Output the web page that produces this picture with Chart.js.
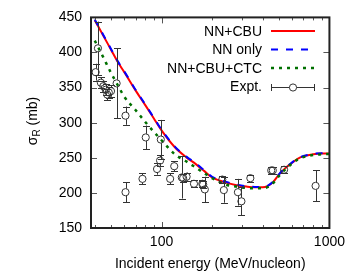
<!DOCTYPE html>
<html>
<head>
<meta charset="utf-8">
<script src="https://cdn.jsdelivr.net/npm/chart.js@4/dist/chart.umd.min.js"></script>
<style>
  html, body { margin: 0; padding: 0; background: #fff; }
  #wrap { width: 351px; height: 273px; }
</style>
</head>
<body>
<div id="wrap"><canvas id="sigmaChart" width="351" height="273"></canvas></div>
<script>
// experimental points (energy in MeV/nucleon, sigma_R in mb, error in mb)
const exptEnergy = [40.5, 41.8, 43.5, 45, 46.5, 47.5, 48.5, 50, 54, 61, 61, 77, 80.5, 94, 98, 99,
    112.5, 119, 132, 134.5, 141, 156, 175, 177, 181, 230, 235, 285, 299, 338, 450, 460, 537, 827];
const exptSigma = [372, 406, 357, 352, 347, 340, 343, 345, 356, 310, 201, 220, 279, 234, 246, 276,
    220, 238, 222, 221, 223, 213, 213, 212, 205, 219, 204, 201, 188, 221, 232, 232, 233, 210];
const exptError = [12, 38, 8, 8, 8, 8, 8, 8, 50, 13, 14, 8, 17, 8, 8, 28,
    8, 7, 30, 6, 6, 5, 5, 5, 18, 5, 18, 19, 20, 5, 5, 5, 5, 22];

// calculated curves
const curveEnergy = [40, 45, 50, 55, 60, 70, 80, 90, 100, 120, 140, 160, 180, 200, 240, 280, 320,
    360, 400, 430, 460, 500, 550, 600, 650, 700, 800, 900, 1000];
const nnCbu = [446, 424, 404, 386, 372, 346, 325, 306, 289, 265, 251, 241, 231, 222, 215, 211, 209,
    208, 208, 210, 215, 226, 236, 243, 249, 252, 255, 256, 256];
const nnOnly = [447, 425, 405, 387, 373, 347, 326, 307, 290, 266, 252, 242, 232, 223, 216, 212, 209.5,
    208.5, 208.5, 210.5, 215.5, 226.5, 236.5, 243.5, 249.5, 252.5, 255.5, 256.5, 256.5];
const nnCbuCtc = [417, 393, 371, 353, 337, 318, 301, 287, 275, 255, 245, 236, 228, 221, 212, 209, 207,
    206.5, 206.5, 208.5, 213.5, 224, 234, 242, 248, 251, 254, 255, 255.5];

// axes
const yTicks = [150, 200, 250, 300, 350, 400, 450];
const xTicks = [40, 50, 60, 70, 80, 90, 100, 200, 300, 400, 500, 600, 700, 800, 900, 1000];
const xTickLabels = [100, 1000];

const legendItems = ['NN+CBU', 'NN only', 'NN+CBU+CTC', 'Expt.'];

const FONT = '"Liberation Sans", Arial, sans-serif';
Chart.defaults.font.family = FONT;
Chart.defaults.font.size = 14;
Chart.defaults.color = '#000';

function toPoints(xs, ys) {
    return xs.map((v, i) => ({ x: v, y: ys[i] }));
}

// error bars, tick marks, frame, legend and y title
const gnuplotLook = {
    id: 'gnuplotLook',
    afterDatasetsDraw(chart) {
        const { ctx, scales: { x, y } } = chart;
        ctx.save();
        ctx.strokeStyle = '#333';
        ctx.lineWidth = 1;
        const r = 3.6;
        exptEnergy.forEach((e, i) => {
            const px = Math.round(x.getPixelForValue(e)) + 0.5;
            const pc = y.getPixelForValue(exptSigma[i]);
            const top = y.getPixelForValue(exptSigma[i] + exptError[i]);
            const bot = y.getPixelForValue(exptSigma[i] - exptError[i]);
            ctx.beginPath();
            if (pc - top > r) { ctx.moveTo(px, top); ctx.lineTo(px, pc - r); }
            if (bot - pc > r) { ctx.moveTo(px, pc + r); ctx.lineTo(px, bot); }
            ctx.moveTo(px - 3.5, Math.round(top) + 0.5); ctx.lineTo(px + 3.5, Math.round(top) + 0.5);
            ctx.moveTo(px - 3.5, Math.round(bot) + 0.5); ctx.lineTo(px + 3.5, Math.round(bot) + 0.5);
            ctx.stroke();
        });
        ctx.restore();
    },
    afterDraw(chart) {
        const { ctx, chartArea: a, scales: { x, y } } = chart;
        ctx.save();
        // ticks inside, mirrored
        ctx.strokeStyle = '#555';
        ctx.lineWidth = 1;
        ctx.beginPath();
        yTicks.forEach(v => {
            const py = Math.round(y.getPixelForValue(v)) + 0.5;
            ctx.moveTo(a.left, py); ctx.lineTo(a.left + 6, py);
            ctx.moveTo(a.right, py); ctx.lineTo(a.right - 6, py);
        });
        xTicks.forEach(v => {
            const px = Math.round(x.getPixelForValue(v)) + 0.5;
            const len = xTickLabels.includes(v) ? 6 : 3;
            ctx.moveTo(px, a.bottom); ctx.lineTo(px, a.bottom - len);
            ctx.moveTo(px, a.top); ctx.lineTo(px, a.top + len);
        });
        ctx.stroke();

        // frame
        ctx.strokeStyle = '#222';
        ctx.lineWidth = 2;
        ctx.strokeRect(a.left, a.top, a.right - a.left, a.bottom - a.top);

        // legend
        const colors = ['#ff0000', '#0000ff', '#007000'];
        const dashes = [[], [7, 8], [3, 5]];
        const widths = [2, 2, 2.5];
        const rowY = [31, 49.5, 68, 86.5];
        const textRight = 262, x0 = 271, x1 = 315;
        ctx.font = '14px ' + FONT;
        ctx.fillStyle = '#000';
        ctx.textAlign = 'right';
        ctx.textBaseline = 'middle';
        legendItems.forEach((label, i) => {
            ctx.fillText(label, textRight, rowY[i] + 1);
            ctx.beginPath();
            if (i < 3) {
                ctx.strokeStyle = colors[i];
                ctx.lineWidth = widths[i];
                ctx.setLineDash(dashes[i]);
                ctx.moveTo(x0, rowY[i]); ctx.lineTo(x1, rowY[i]);
                ctx.stroke();
                ctx.setLineDash([]);
            } else {
                const ly = Math.round(rowY[i]) + 0.5;
                const cx = (x0 + x1) / 2;
                ctx.strokeStyle = '#333';
                ctx.lineWidth = 1;
                ctx.moveTo(x0, ly); ctx.lineTo(cx - 3.6, ly);
                ctx.moveTo(cx + 3.6, ly); ctx.lineTo(x1, ly);
                ctx.moveTo(x0 + 0.5, ly - 3.5); ctx.lineTo(x0 + 0.5, ly + 3.5);
                ctx.moveTo(x1 - 0.5, ly - 3.5); ctx.lineTo(x1 - 0.5, ly + 3.5);
                ctx.stroke();
                ctx.beginPath();
                ctx.arc(cx, ly, 3.6, 0, Math.PI * 2);
                ctx.stroke();
            }
        });

        // y title with subscript
        ctx.translate(32, 121);
        ctx.rotate(-Math.PI / 2);
        ctx.textAlign = 'left';
        ctx.textBaseline = 'alphabetic';
        ctx.font = '14px ' + FONT;
        const w1 = ctx.measureText('σ').width;
        const w3 = ctx.measureText(' (mb)').width;
        ctx.font = '10px ' + FONT;
        const w2 = ctx.measureText('R').width;
        let sx = -(w1 + w2 + w3) / 2;
        ctx.font = '14px ' + FONT;
        ctx.fillText('σ', sx, 5);
        ctx.font = '10px ' + FONT;
        ctx.fillText('R', sx + w1, 8);
        ctx.font = '14px ' + FONT;
        ctx.fillText(' (mb)', sx + w1 + w2, 5);
        ctx.restore();
    }
};

const ctx = document.getElementById('sigmaChart').getContext('2d');

const sigmaChart = new Chart(ctx, {
    type: 'scatter',
    data: {
        datasets: [
            {
                label: 'Expt.',
                data: toPoints(exptEnergy, exptSigma),
                pointStyle: 'circle',
                pointRadius: 3.6,
                pointBorderWidth: 1,
                pointBorderColor: '#333',
                pointBackgroundColor: 'rgba(0,0,0,0)',
                showLine: false,
                order: 0
            },
            {
                label: 'NN+CBU+CTC',
                data: toPoints(curveEnergy, nnCbuCtc),
                showLine: true,
                borderColor: '#007000',
                borderWidth: 2.5,
                borderDash: [3, 5],
                pointRadius: 0,
                tension: 0.4,
                cubicInterpolationMode: 'monotone',
                order: 1
            },
            {
                label: 'NN only',
                data: toPoints(curveEnergy, nnOnly),
                showLine: true,
                borderColor: '#0000ff',
                borderWidth: 2,
                borderDash: [7, 8],
                pointRadius: 0,
                cubicInterpolationMode: 'monotone',
                order: 2
            },
            {
                label: 'NN+CBU',
                data: toPoints(curveEnergy, nnCbu),
                showLine: true,
                borderColor: '#ff0000',
                borderWidth: 2,
                pointRadius: 0,
                cubicInterpolationMode: 'monotone',
                order: 3
            }
        ]
    },
    options: {
        responsive: false,
        animation: false,
        devicePixelRatio: 1,
        layout: { padding: { left: 0, right: 19, top: 15, bottom: 0 } },
        plugins: {
            legend: { display: false },
            tooltip: { enabled: false }
        },
        events: [],
        scales: {
            x: {
                type: 'logarithmic',
                min: 38,
                max: 1000,
                grid: { display: false, drawTicks: false },
                border: { display: false },
                afterBuildTicks: (axis) => {
                    axis.ticks = xTicks.map(v => ({ value: v }));
                },
                afterFit: (axis) => { axis.height = 45; },
                ticks: {
                    autoSkip: false,
                    maxRotation: 0,
                    minRotation: 0,
                    padding: 6,
                    callback: (value) => xTickLabels.includes(value) ? String(value) : ''
                },
                title: {
                    display: true,
                    text: 'Incident energy (MeV/nucleon)',
                    padding: { top: 0, bottom: 0 }
                }
            },
            y: {
                min: 150,
                max: 450,
                grid: { display: false, drawTicks: false },
                border: { display: false },
                afterBuildTicks: (axis) => {
                    axis.ticks = yTicks.map(v => ({ value: v }));
                },
                afterFit: (axis) => { axis.width = 91; },
                ticks: { padding: 9 }
            }
        }
    },
    plugins: [gnuplotLook]
});
</script>
</body>
</html>
